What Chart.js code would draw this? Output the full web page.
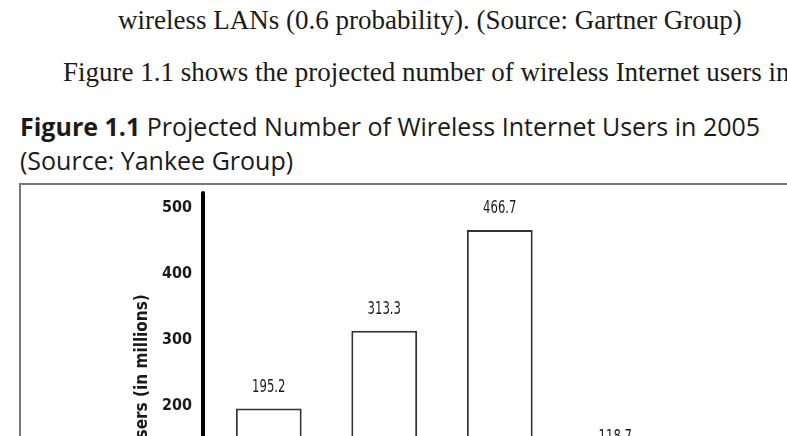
<!DOCTYPE html>
<html>
<head>
<meta charset="utf-8">
<script src="https://cdn.jsdelivr.net/npm/chart.js@4"></script>
<style>
  html, body { margin: 0; padding: 0; background: #fff; }
  body { width: 787px; height: 436px; overflow: hidden; position: relative; color: #1a1a1a; }
  .body-text { position: absolute; font-family: "Liberation Serif", serif; font-size: 27px; line-height: 1; white-space: nowrap; }
  .caption { position: absolute; left: 20px; font-family: "Open Sans", sans-serif; font-size: 25px; line-height: 1; white-space: nowrap; }
  .caption b { font-weight: 700; }
  #frame { position: absolute; left: 19px; top: 183px; width: 800px; height: 420px; border: 2px solid #777; box-sizing: border-box; }
  #chartBox { position: absolute; left: 21px; top: 185px; width: 770px; height: 420px; }
</style>
</head>
<body>
<div class="body-text" style="left:118px; top:7px;">wireless LANs (0.6 probability). (Source: Gartner Group)</div>
<div class="body-text" style="left:63px; top:59px;">Figure 1.1 shows the projected number of wireless Internet users in 2005.</div>
<div class="caption" style="top:114px;"><b>Figure 1.1</b> Projected Number of Wireless Internet Users in 2005</div>
<div class="caption" style="top:148px;">(Source: Yankee Group)</div>
<div id="frame"></div>
<div id="chartBox"><canvas id="barChart"></canvas></div>

<script>
// values
const categories = ['North America', 'Western Europe', 'Asia Pacific', 'Rest of World'];
const users = [195.2, 313.3, 466.7, 118.7];
const yMin = 0;
const yMax = 500;
const yStep = 100;

const narrow = '"DejaVu Sans Condensed", "DejaVu Sans", sans-serif';

/**
 * value labels above the bars + thick y axis line
 */
const extras = {
    id: 'extras',
    afterDatasetsDraw(chart) {
        const ctx = chart.ctx;
        const meta = chart.getDatasetMeta(0);
        ctx.save();
        ctx.font = '17px ' + narrow;
        ctx.fillStyle = '#1a1a1a';
        ctx.textAlign = 'center';
        ctx.textBaseline = 'middle';
        meta.data.forEach(function (bar, i) {
            // squeeze the label a bit, the original uses a condensed face
            ctx.save();
            ctx.translate(bar.x, bar.y - 21);
            ctx.scale(0.76, 1);
            ctx.fillText(users[i].toFixed(1), 0, 0);
            ctx.restore();
        });
        // axis line sits a little left of the first category
        const area = chart.chartArea;
        ctx.strokeStyle = '#000';
        ctx.lineWidth = 4;
        ctx.lineCap = 'round';
        ctx.beginPath();
        ctx.moveTo(area.left - 8, area.top - 15);
        ctx.lineTo(area.left - 8, area.bottom);
        ctx.stroke();
        ctx.restore();
    }
};

const dataBarChart = {
    labels: categories,
    datasets: [{
        label: 'Users (in millions)',
        data: users,
        backgroundColor: '#fff',
        borderColor: '#333',
        borderWidth: 2,
        categoryPercentage: 1,
        barPercentage: 0.57
    }]
};

const configBarChart = {
    type: 'bar',
    data: dataBarChart,
    options: {
        responsive: false,
        animation: false,
        layout: {
            padding: { top: 23, left: 111, right: 118, bottom: 28 }
        },
        plugins: {
            legend: { display: false },
            tooltip: { enabled: false }
        },
        scales: {
            x: {
                grid: { display: false, drawTicks: false },
                border: { display: false },
                ticks: { color: '#1a1a1a', font: { family: narrow, size: 15, weight: 'bold' } },
                afterFit: function (scale) { scale.height = 40; }
            },
            y: {
                min: yMin,
                max: yMax,
                ticks: {
                    stepSize: yStep,
                    padding: 19,
                    color: '#1a1a1a',
                    font: { family: narrow, size: 16, weight: 'bold' }
                },
                grid: { display: false, drawTicks: false },
                border: { display: false },
                title: {
                    display: true,
                    text: 'Users (in millions)',
                    color: '#1a1a1a',
                    padding: 0,
                    font: { family: narrow, size: 17, weight: 'bold' }
                },
                afterFit: function (scale) {
                    scale.width = 79;
                    // the big tick padding should not push the plot down
                    scale.paddingTop = 10;
                    scale.paddingBottom = 10;
                }
            }
        }
    },
    plugins: [extras]
};

var barChartContainer = document.getElementById('barChart');
barChartContainer.width = 770;
barChartContainer.height = 420;
var barChart = new Chart(barChartContainer, configBarChart);
</script>
</body>
</html>
